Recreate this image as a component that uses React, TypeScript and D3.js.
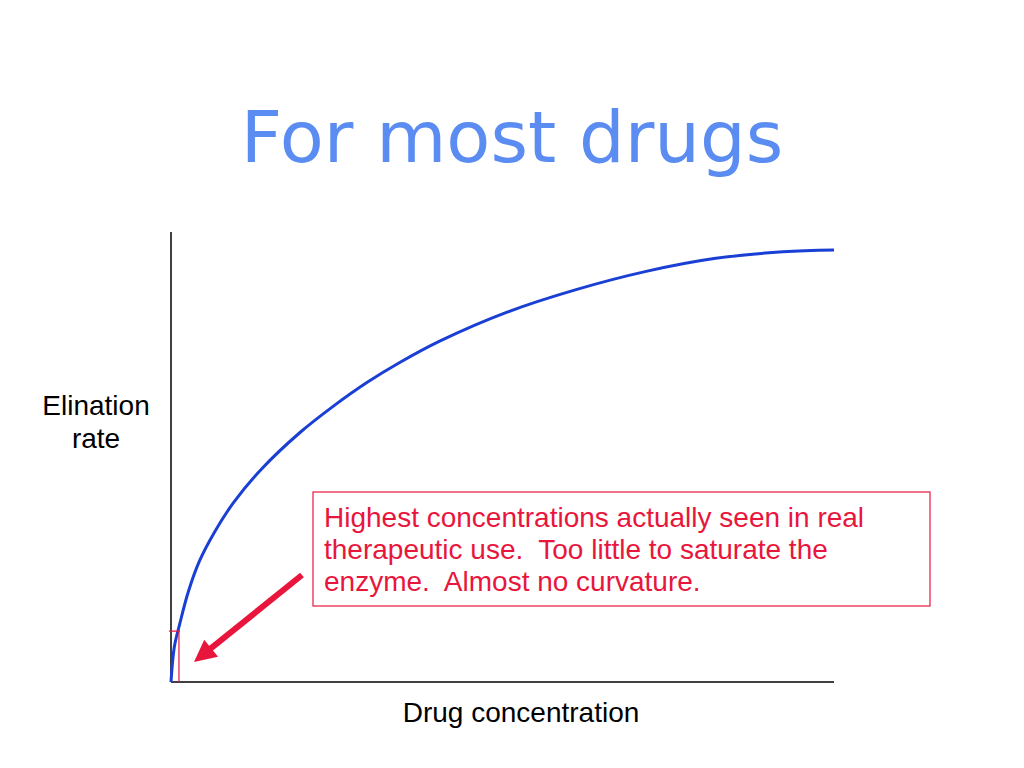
import React from "react";
import * as d3 from "d3";

const concentration = [0, 0.5, 1.3, 2.6, 4.3, 6.6, 9.4, 13.7, 19.5, 24.4, 29.6, 34.5, 40.6, 50.7, 61.1, 71.5, 81.9, 92.3, 100];
const eliminationRate = [0, 7.8, 12.8, 20.0, 26.9, 33.4, 39.8, 47.4, 55.5, 61.2, 66.6, 71.0, 75.8, 82.2, 87.2, 91.2, 94.1, 95.6, 96.0];
const therapeuticMaxConc = [1.2];
const therapeuticMaxRate = [11.3];
const titleText = ["For most drugs"];
const yLabelLines = ["Elination", "rate"];
const xLabelText = ["Drug concentration"];
const noteLines = [
  "Highest concentrations actually seen in real",
  "therapeutic use.  Too little to saturate the",
  "enzyme.  Almost no curvature.",
];

export default function App() {
  const x = d3.scaleLinear().domain([0, 100]).range([171, 834]);
  const y = d3.scaleLinear().domain([0, 100]).range([682, 232]);
  const pts = concentration.map((c, i) => [c, eliminationRate[i]] as [number, number]);
  const line = d3
    .line<[number, number]>()
    .x((d) => x(d[0]))
    .y((d) => y(d[1]))
    .curve(d3.curveCatmullRom.alpha(0.5));
  const red = "#E8163C";
  const arrowTail = [302, 575];
  const arrowTip = [194, 662];
  const dx = arrowTip[0] - arrowTail[0];
  const dy = arrowTip[1] - arrowTail[1];
  const len = Math.sqrt(dx * dx + dy * dy);
  const ux = dx / len, uy = dy / len;
  const headLen = 22, headW = 11;
  const bx = arrowTip[0] - ux * headLen, by = arrowTip[1] - uy * headLen;
  const px = -uy, py = ux;
  const font = "'Liberation Sans', Arial, sans-serif";
  return (
    <svg
      width={1024}
      height={768}
      style={{ position: "absolute", left: 0, top: 0, background: "#fff" }}
    >
      <text
        x={512}
        y={162}
        textAnchor="middle"
        fontFamily="'Comic Sans MS', 'DejaVu Sans', sans-serif"
        fontSize={72}
        fill="#5B8CF2"
      >
        {titleText[0]}
      </text>
      <line x1={x(0)} y1={y(100)} x2={x(0)} y2={y(0)} stroke="#000" strokeWidth={1.5} />
      <line x1={x(0)} y1={y(0)} x2={x(100)} y2={y(0)} stroke="#000" strokeWidth={1.5} />
      <path d={line(pts) || ""} fill="none" stroke="#1A3FD4" strokeWidth={3} />
      <path
        d={`M${x(0) - 2},${y(therapeuticMaxRate[0])} H${x(therapeuticMaxConc[0]) + 1} M${x(therapeuticMaxConc[0])},${y(therapeuticMaxRate[0])} V${y(0)}`}
        fill="none"
        stroke={red}
        strokeWidth={1.2}
      />
      <line
        x1={arrowTail[0]}
        y1={arrowTail[1]}
        x2={bx + ux * 2}
        y2={by + uy * 2}
        stroke={red}
        strokeWidth={6}
      />
      <polygon
        points={`${arrowTip[0]},${arrowTip[1]} ${bx + px * headW},${by + py * headW} ${bx - px * headW},${by - py * headW}`}
        fill={red}
      />
      <rect x={313} y={492} width={617} height={114} fill="#fff" stroke={red} strokeWidth={1.2} />
      {noteLines.map((t, i) => (
        <text
          key={i}
          x={324}
          y={527 + i * 32}
          fontFamily={font}
          fontSize={28}
          fill={red}
          style={{ whiteSpace: "pre" }}
        >
          {t}
        </text>
      ))}
      {yLabelLines.map((t, i) => (
        <text key={i} x={96} y={415 + i * 33} textAnchor="middle" fontFamily={font} fontSize={28} fill="#000">
          {t}
        </text>
      ))}
      <text x={521} y={722} textAnchor="middle" fontFamily={font} fontSize={28} fill="#000">
        {xLabelText[0]}
      </text>
    </svg>
  );
}
